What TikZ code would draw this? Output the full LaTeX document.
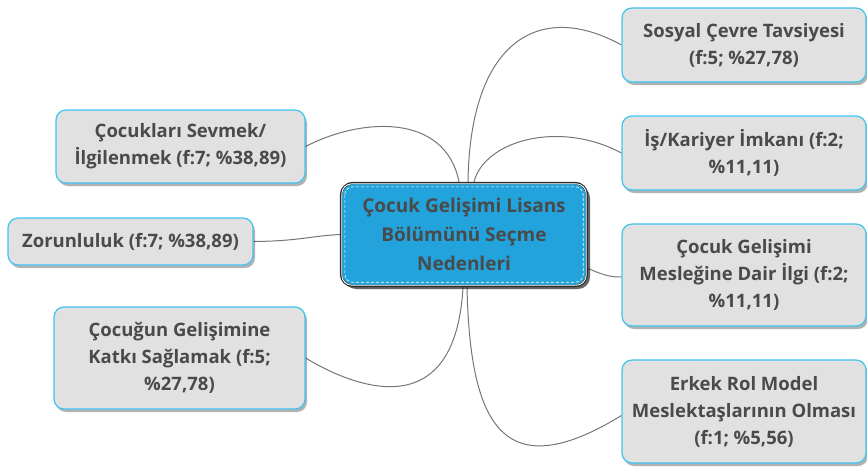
\documentclass[tikz,border=0pt]{standalone}
\usepackage{fontspec}
\setmainfont{Open Sans}
\usetikzlibrary{shadows,backgrounds}
\definecolor{boxfill}{HTML}{E1E1E1}
\definecolor{boxline}{HTML}{3EC5F0}
\definecolor{txt}{HTML}{4A4A4A}
\definecolor{cfill}{HTML}{22A3DC}
\definecolor{conn}{HTML}{767676}
\definecolor{cborder}{HTML}{2E2E2E}
\begin{document}
\begin{tikzpicture}[x=1pt,y=-1pt,
  leaf/.style={draw=boxline, line width=1.2pt, fill=boxfill, rounded corners=10pt,
    align=center, font=\bfseries\fontsize{18.5}{27}\selectfont, text=txt, inner sep=0pt,
    drop shadow={shadow xshift=2pt, shadow yshift=-3pt, opacity=0.3, fill=black}},
  hub/.style={draw=cborder, line width=2.4pt, fill=cfill, rounded corners=12pt,
    align=center, font=\bfseries\fontsize{19}{29}\selectfont, text=txt, inner sep=0pt,
    minimum width=246pt, minimum height=103pt,
    drop shadow={shadow xshift=3pt, shadow yshift=-3pt, opacity=0.6, fill=black}},
  link/.style={draw=conn, line width=1pt}]
\useasboundingbox (0,0) rectangle (867,467);

\node[hub] (c) at (464,234.5) {Çocuk Gelişimi Lisans\\Bölümünü Seçme\\Nedenleri};
\draw[white, line width=0.8pt, rounded corners=10pt] ([shift={(2,2)}]c.north west) rectangle ([shift={(-2,-2)}]c.south east);
\draw[white, dashed, dash pattern=on 3pt off 2pt, line width=0.6pt, rounded corners=8pt] ([shift={(5,5)}]c.north west) rectangle ([shift={(-5,-5)}]c.south east);

\node[leaf, minimum width=244pt, minimum height=74pt] (s) at (744,45) {Sosyal Çevre Tavsiyesi\\(f:5; \%27,78)};
\node[leaf, minimum width=244pt, minimum height=74pt] (i) at (744,153) {İş/Kariyer İmkanı (f:2;\\\%11,11)};
\node[leaf, minimum width=244pt, minimum height=102pt] (m) at (744,275) {Çocuk Gelişimi\\Mesleğine Dair İlgi (f:2;\\\%11,11)};
\node[leaf, minimum width=244pt, minimum height=103pt] (e) at (744,411.5) {Erkek Rol Model\\Meslektaşlarının Olması\\(f:1; \%5,56)};
\node[leaf, minimum width=249pt, minimum height=73pt] (k) at (180.5,146.5) {Çocukları Sevmek/\\İlgilenmek (f:7; \%38,89)};
\node[leaf, minimum width=245pt, minimum height=47pt] (z) at (130.5,241.5) {Zorunluluk (f:7; \%38,89)};
\node[leaf, minimum width=251pt, minimum height=102pt] (g) at (179.5,358) {Çocuğun Gelişimine\\Katkı Sağlamak (f:5;\\\%27,78)};

\begin{scope}[on background layer]
\draw[link] ([xshift=4pt]c.north) .. controls (470,40) and (540,0) .. (s.west);
\draw[link] ([xshift=10pt]c.north) .. controls (485,140) and (560,120) .. (i.west);
\draw[link] (k.east) .. controls (360,118) and (445,112) .. ([xshift=-5pt]c.north);
\draw[link] (z.east) .. controls (300,241) and (310,236) .. (c.west);
\draw[link] (g.east) .. controls (350,385) and (455,430) .. ([xshift=-1pt]c.south);
\draw[link] ([xshift=3pt]c.south) .. controls (470,420) and (500,490) .. ([yshift=-4pt]e.west);
\draw[link] ([yshift=-34pt]c.east) .. controls (605,276) and (612,277) .. ([yshift=-2pt]m.west);
\end{scope}
\end{tikzpicture}
\end{document}
